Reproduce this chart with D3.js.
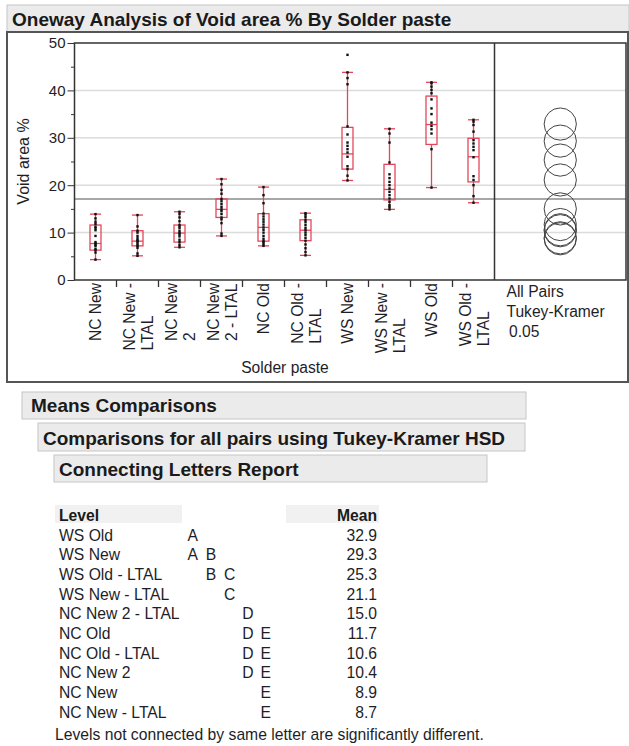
<!DOCTYPE html>
<html>
<head>
<meta charset="utf-8">
<script src="https://cdn.jsdelivr.net/npm/d3@7"></script>
<style>
body { margin: 0; background: #fff; }
svg { display: block; font-family: "Liberation Sans", Arial, sans-serif; }
</style>
</head>
<body>
<svg id="chart" width="629" height="746"></svg>
<script>
// Set data
const groups = ["NC New", "NC New - LTAL", "NC New 2", "NC New 2 - LTAL", "NC Old",
    "NC Old - LTAL", "WS New", "WS New - LTAL", "WS Old", "WS Old - LTAL"];
const groupLabels = [["NC New"], ["NC New -", "LTAL"], ["NC New", "2"], ["NC New", "2 - LTAL"], ["NC Old"],
    ["NC Old -", "LTAL"], ["WS New"], ["WS New -", "LTAL"], ["WS Old"], ["WS Old -", "LTAL"]];

// box plot summaries
const whiskerLow  = [4.3, 5.1, 6.9, 9.3, 7.2, 5.2, 21.0, 14.9, 19.5, 16.3];
const quartile1   = [6.3, 7.2, 8.0, 13.2, 8.2, 8.3, 23.4, 16.9, 28.6, 20.7];
const median      = [7.7, 8.2, 9.9, 14.9, 11.1, 10.5, 26.6, 19.1, 32.8, 26.0];
const quartile3   = [11.6, 10.4, 11.6, 17.1, 14.0, 12.7, 32.2, 24.4, 38.8, 29.9];
const whiskerHigh = [13.9, 13.7, 14.4, 21.3, 19.6, 14.1, 43.8, 31.9, 41.7, 33.8];
const groupMeans  = [8.9, 8.7, 10.4, 15.0, 11.7, 10.6, 29.3, 21.1, 32.9, 25.3];
const grandMean = 17.1;

// individual void area % values per group
const voidPoints = [
    [4.3, 5.8, 6.3, 6.6, 7.2, 7.4, 7.7, 8.0, 9.3, 10.5, 10.9, 11.2, 11.8, 12.3, 13.0, 13.9],
    [5.1, 5.6, 6.8, 7.2, 7.5, 7.9, 8.2, 8.4, 8.8, 9.3, 10.0, 10.4, 11.3, 13.7],
    [6.9, 7.4, 8.0, 8.5, 9.2, 9.6, 9.9, 10.3, 10.9, 11.3, 11.6, 12.4, 13.2, 13.9, 14.4],
    [9.3, 9.8, 12.0, 12.8, 13.2, 13.9, 14.5, 14.9, 15.4, 16.0, 16.6, 17.1, 18.2, 19.0, 20.2, 21.3],
    [7.2, 7.6, 8.0, 8.2, 8.7, 9.3, 10.0, 10.6, 11.1, 11.7, 12.3, 12.8, 13.4, 14.0, 16.2, 17.9, 19.6],
    [5.2, 5.9, 6.7, 7.5, 8.3, 8.9, 9.5, 10.0, 10.5, 11.0, 11.6, 12.2, 12.7, 13.3, 13.8, 14.1],
    [21.0, 22.0, 23.4, 24.0, 26.0, 26.9, 27.6, 28.3, 29.0, 30.7, 32.4, 41.3, 42.6, 43.8, 47.5],
    [14.9, 15.4, 15.8, 16.5, 17.2, 17.9, 18.6, 19.3, 20.0, 20.7, 21.5, 22.3, 24.8, 29.0, 30.9, 31.9],
    [19.5, 27.6, 30.9, 31.8, 32.5, 33.2, 35.0, 36.2, 38.1, 39.4, 40.1, 40.8, 41.5, 41.7],
    [16.3, 17.7, 20.0, 21.1, 21.9, 25.9, 27.4, 28.1, 28.8, 29.5, 31.3, 32.7, 33.4, 33.8]
];
const circleRadius = 3.4;   // Tukey-Kramer comparison circle radius, data units

const yTicks = [0, 10, 20, 30, 40, 50];
const yMinorTicks = [5, 15, 25, 35, 45];

// connecting letters report
const reportLevels = ["WS Old", "WS New", "WS Old - LTAL", "WS New - LTAL", "NC New 2 - LTAL",
    "NC Old", "NC Old - LTAL", "NC New 2", "NC New", "NC New - LTAL"];
const reportLetters = [["A"], ["A", "B"], ["B", "C"], ["C"], ["D"], ["D", "E"], ["D", "E"], ["D", "E"], ["E"], ["E"]];
const reportMeans = [32.9, 29.3, 25.3, 21.1, 15.0, 11.7, 10.6, 10.4, 8.9, 8.7];
const letterColumns = ["A", "B", "C", "D", "E"];


// Layout
const plot = {left: 74.5, top: 43, right: 626, bottom: 280, split: 494.5};
const textColor = "#1e1e28";
const boxColor = "#e5455a";
const labelSize = 15.6;
const tableSize = 15.7;

const svg = d3.select("#chart");

const y = d3.scaleLinear().domain([0, 50]).range([plot.bottom, plot.top]);
const x = d3.scaleBand().domain(groups).range([plot.left, plot.split]);
const tukeyX = (plot.split + plot.right) / 2;


// functions
const drawBar = function(x0, y0, w, h, label, size, pad, baseline){
    svg.append("rect")
        .attr("x", x0).attr("y", y0).attr("width", w).attr("height", h)
        .attr("fill", "#ebebeb").attr("stroke", "#c6c6c6");
    svg.append("text")
        .attr("x", x0 + pad).attr("y", baseline)
        .attr("font-weight", "bold").attr("font-size", size)
        .attr("fill", "#1a1a1a")
        .text(label);
}

const drawBox = function(i){
    const cx = x(groups[i]) + x.bandwidth() / 2;
    const half = 5.5;
    const g = svg.append("g").attr("stroke", boxColor).attr("stroke-width", 1.3).attr("fill", "none");
    g.append("line").attr("x1", cx).attr("x2", cx).attr("y1", y(whiskerHigh[i])).attr("y2", y(quartile3[i]));
    g.append("line").attr("x1", cx).attr("x2", cx).attr("y1", y(quartile1[i])).attr("y2", y(whiskerLow[i]));
    g.append("line").attr("x1", cx - half).attr("x2", cx + half).attr("y1", y(whiskerHigh[i])).attr("y2", y(whiskerHigh[i]));
    g.append("line").attr("x1", cx - half).attr("x2", cx + half).attr("y1", y(whiskerLow[i])).attr("y2", y(whiskerLow[i]));
    g.append("rect")
        .attr("x", cx - half).attr("width", half * 2)
        .attr("y", y(quartile3[i])).attr("height", y(quartile1[i]) - y(quartile3[i]));
    g.append("line").attr("x1", cx - half).attr("x2", cx + half).attr("y1", y(median[i])).attr("y2", y(median[i]));
}

const drawPoints = function(i){
    const cx = x(groups[i]) + x.bandwidth() / 2;
    svg.append("g").selectAll("rect")
        .data(voidPoints[i])
        .join("rect")
        .attr("x", cx - 1.2).attr("y", d => y(d) - 1.2)
        .attr("width", 2.4).attr("height", 2.4)
        .attr("fill", "#111");
}


// Title bar and outer frame
drawBar(7, 5, 622, 27, "Oneway Analysis of Void area % By Solder paste", 19, 5, 25.5);
svg.append("rect")
    .attr("x", 7).attr("y", 32).attr("width", 621).attr("height", 350)
    .attr("fill", "none").attr("stroke", "#555").attr("stroke-width", 2);

// grid
svg.append("g").selectAll("line")
    .data(yTicks.filter(d => d > 0 && d < 50))
    .join("line")
    .attr("x1", plot.left).attr("x2", plot.right)
    .attr("y1", d => y(d)).attr("y2", d => y(d))
    .attr("stroke", "#dcdcdc").attr("stroke-width", 1.5);

svg.append("line")
    .attr("x1", plot.left).attr("x2", plot.right)
    .attr("y1", y(grandMean)).attr("y2", y(grandMean))
    .attr("stroke", "#8a8a8a").attr("stroke-width", 1.5);

// boxes and points
groups.forEach((g, i) => {
    drawBox(i);
    drawPoints(i);
});

// Tukey-Kramer circles
svg.append("g").selectAll("circle")
    .data(groupMeans)
    .join("circle")
    .attr("cx", tukeyX).attr("cy", d => y(d))
    .attr("r", y(0) - y(circleRadius))
    .attr("fill", "none").attr("stroke", "#444").attr("stroke-width", 1);

// frame
svg.append("rect")
    .attr("x", plot.left).attr("y", plot.top)
    .attr("width", plot.right - plot.left).attr("height", plot.bottom - plot.top)
    .attr("fill", "none").attr("stroke", "#333").attr("stroke-width", 1.5);
svg.append("line")
    .attr("x1", plot.split).attr("x2", plot.split)
    .attr("y1", plot.top).attr("y2", plot.bottom)
    .attr("stroke", "#333").attr("stroke-width", 1.5);

// y axis
const yAxis = svg.append("g")
    .attr("transform", `translate(${plot.left},0)`)
    .call(d3.axisLeft(y).tickValues(yTicks).tickSize(7).tickPadding(2));
yAxis.select(".domain").remove();
yAxis.selectAll("line").attr("stroke", "#333");
yAxis.selectAll("text").attr("font-size", 15).attr("font-family", null).attr("fill", textColor);

const yMinor = svg.append("g")
    .attr("transform", `translate(${plot.left},0)`)
    .call(d3.axisLeft(y).tickValues(yMinorTicks).tickSize(3.5).tickFormat(""));
yMinor.select(".domain").remove();
yMinor.selectAll("line").attr("stroke", "#333");

svg.append("text")
    .attr("transform", "translate(28.5,161.5) rotate(-90)")
    .attr("text-anchor", "middle").attr("font-size", 16).attr("fill", textColor)
    .text("Void area %");

// x axis: ticks between groups
svg.append("g").selectAll("line")
    .data(groups.slice(1))
    .join("line")
    .attr("x1", d => x(d)).attr("x2", d => x(d))
    .attr("y1", plot.bottom).attr("y2", plot.bottom + 7)
    .attr("stroke", "#333").attr("stroke-width", 1.3);

groupLabels.forEach((lines, i) => {
    const cx = x(groups[i]) + x.bandwidth() / 2;
    const g = svg.append("g")
        .attr("transform", `translate(${cx},${plot.bottom + 3}) rotate(-90)`)
        .attr("font-size", labelSize).attr("fill", textColor);
    const texts = lines.map((t, j) => g.append("text")
        .attr("y", lines.length === 1 ? 5.5 : (j === 0 ? -2.5 : 15.5))
        .text(t));
    const w = d3.max(texts, t => t.node().getComputedTextLength());
    texts.forEach(t => t.attr("x", -w));
});

svg.append("text")
    .attr("x", 285).attr("y", 373)
    .attr("text-anchor", "middle").attr("font-size", labelSize).attr("fill", textColor)
    .text("Solder paste");

svg.append("g").attr("font-size", labelSize).attr("fill", textColor)
    .selectAll("text")
    .data(["All Pairs", "Tukey-Kramer", "0.05"])
    .join("text")
    .attr("x", (d, i) => i === 2 ? 509 : 506.5).attr("y", (d, i) => 297 + i * 20)
    .text(d => d);


// Means comparisons section
drawBar(22, 392, 504, 27, "Means Comparisons", 19, 9, 412);
drawBar(38, 423, 487, 28, "Comparisons for all pairs using Tukey-Kramer HSD", 19, 5, 445);
drawBar(54, 455, 433, 27, "Connecting Letters Report", 19, 5, 475.5);

// table header
svg.append("rect").attr("x", 55).attr("y", 505).attr("width", 127).attr("height", 18).attr("fill", "#f1f1f1");
svg.append("rect").attr("x", 286).attr("y", 505).attr("width", 93).attr("height", 18).attr("fill", "#f1f1f1");
svg.append("text").attr("x", 59).attr("y", 521).attr("font-weight", "bold").attr("font-size", tableSize)
    .attr("fill", "#1a1a1a").text("Level");
svg.append("text").attr("x", 377).attr("y", 521).attr("text-anchor", "end").attr("font-weight", "bold")
    .attr("font-size", tableSize).attr("fill", "#1a1a1a").text("Mean");

const rowY = d3.scaleBand().domain(d3.range(reportLevels.length)).range([525.5, 722]);
const letterX = d3.scalePoint().domain(letterColumns).range([187.5, 260.5]);
const fmt = d3.format(".1f");

const rows = svg.append("g").attr("font-size", tableSize).attr("fill", textColor)
    .selectAll("g")
    .data(reportLevels)
    .join("g")
    .attr("transform", (d, i) => `translate(0,${rowY(i) + 15.2})`);
rows.append("text").attr("x", 59).text(d => d);
rows.append("text").attr("x", 377).attr("text-anchor", "end").text((d, i) => fmt(reportMeans[i]));
rows.each(function(d, i){
    d3.select(this).selectAll("text.letter")
        .data(reportLetters[i])
        .join("text")
        .attr("class", "letter")
        .attr("x", l => letterX(l))
        .text(l => l);
});

svg.append("text")
    .attr("x", 55).attr("y", 739.5).attr("font-size", tableSize).attr("fill", textColor)
    .text("Levels not connected by same letter are significantly different.");
</script>
</body>
</html>
